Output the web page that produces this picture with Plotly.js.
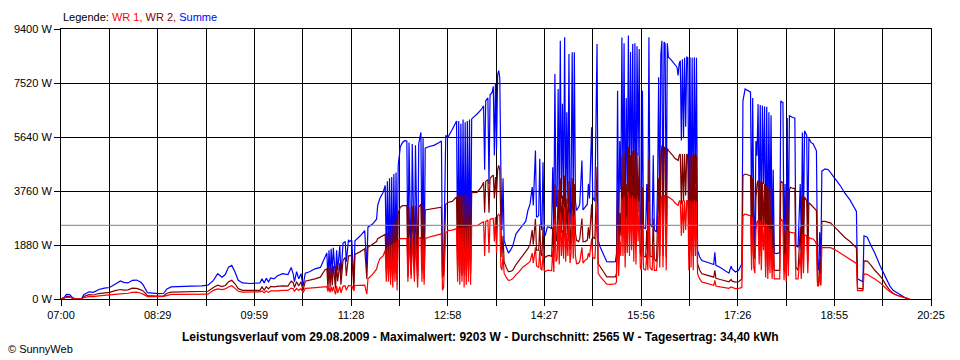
<!DOCTYPE html>
<html>
<head>
<meta charset="utf-8">
<script src="https://cdn.plot.ly/plotly-3.0.1.min.js"></script>
<style>html,body{margin:0;padding:0;background:#fff;}#chart{width:960px;height:360px;}</style>
</head>
<body>
<div id="chart"></div>
<script>
// ---- data ----
const seriesNames = ["WR 1", "WR 2", "Summe"];
const seriesColors = ["#ff0000", "#800000", "#0000ff"];
const xTickLabels = ["07:00","08:29","09:59","11:28","12:58","14:27","15:56","17:26","18:55","20:25"];
const yTickValues = [0, 1880, 3760, 5640, 7520, 9400];
const averageW = 2565;
const titleText = "Leistungsverlauf vom 29.08.2009 - Maximalwert: 9203 W - Durchschnitt: 2565 W - Tagesertrag: 34,40 kWh";

const time = [
"07:00","07:03","07:05","07:08","07:11","07:14","07:19","07:21","07:26","07:30",
"07:35","07:40","07:45","07:50","07:55","07:58","08:02","08:06","08:10","08:14",
"08:16","08:20","08:25","08:30","08:35","08:38","08:42","08:50","09:00","09:10",
"09:16","09:21","09:25","09:29","09:32","09:35","09:38","09:41","09:44","09:48",
"09:55","10:04","10:06","10:08","10:10","10:12","10:14","10:17","10:20","10:25",
"10:30","10:33","10:35","10:36","10:38","10:40","10:42","10:44","10:46","10:50",
"10:55","11:00","11:04","11:06","11:07","11:08","11:09","11:10","11:11","11:12",
"11:14","11:15","11:16","11:18","11:19","11:21","11:23","11:24","11:26","11:27",
"11:29","11:31","11:32","11:37","11:41","11:43","11:44","11:48","11:52","11:53",
"11:55","11:58","12:00","12:01","12:02","12:03","12:04","12:05","12:06","12:07",
"12:08","12:09","12:10","12:11","12:12","12:14","12:16","12:18","12:20","12:21",
"12:22","12:24","12:25","12:27","12:28","12:30","12:31","12:33","12:34","12:35",
"12:36","12:37","12:40","12:45","12:50","12:52","12:53","12:54","12:56","12:58",
"13:02","13:05","13:06","13:07","13:08","13:09","13:10","13:11","13:12","13:13",
"13:14","13:15","13:16","13:17","13:18","13:19","13:20","13:25","13:29","13:31",
"13:32","13:33","13:35","13:36","13:37","13:39","13:40","13:41","13:42","13:43",
"13:44","13:45","13:46","13:47","13:48","13:49","13:50","13:52","13:54","13:56",
"13:58","14:01","14:04","14:07","14:10","14:12","14:14","14:16","14:17","14:19",
"14:20","14:22","14:23","14:24","14:25","14:26","14:27","14:28","14:30","14:32",
"14:34","14:35","14:36","14:37","14:38","14:39","14:40","14:41","14:42","14:43",
"14:44","14:45","14:46","14:47","14:48","14:49","14:50","14:51","14:52","14:53",
"14:54","14:55","14:56","14:57","14:59","15:00","15:02","15:03","15:05","15:07",
"15:08","15:09","15:11","15:12","15:14","15:15","15:16","15:17","15:19","15:22",
"15:25","15:29","15:33","15:34","15:35","15:36","15:37","15:38","15:39","15:40",
"15:41","15:42","15:43","15:44","15:45","15:46","15:47","15:48","15:49","15:50",
"15:51","15:52","15:53","15:54","15:55","15:56","15:57","15:58","15:59","16:01",
"16:02","16:03","16:04","16:05","16:07","16:08","16:09","16:11","16:12","16:13",
"16:14","16:15","16:16","16:17","16:18","16:19","16:20","16:21","16:22","16:24",
"16:26","16:28","16:30","16:31","16:32","16:33","16:34","16:35","16:36","16:37",
"16:38","16:39","16:40","16:41","16:42","16:43","16:44","16:45","16:46","16:47",
"16:48","16:49","16:51","16:53","16:56","17:00","17:04","17:05","17:06","17:10",
"17:14","17:18","17:20","17:21","17:24","17:27","17:30","17:31","17:33","17:36",
"17:38","17:39","17:40","17:41","17:42","17:43","17:44","17:45","17:46","17:47",
"17:48","17:49","17:50","17:51","17:52","17:53","17:54","17:55","17:56","17:57",
"17:58","17:59","18:00","18:02","18:04","18:05","18:06","18:07","18:08","18:09",
"18:10","18:11","18:12","18:13","18:14","18:15","18:17","18:19","18:20","18:22",
"18:24","18:25","18:26","18:27","18:28","18:30","18:31","18:32","18:34","18:36",
"18:38","18:39","18:40","18:41","18:42","18:43","18:44","18:47","18:50","18:52",
"18:56","19:01","19:05","19:10","19:14","19:16","19:17","19:22","19:23","19:26",
"19:29","19:33","19:38","19:40","19:44","19:47","19:50","19:54","19:57","20:00",
"20:03","20:05"
];

const summe = [
0,60,160,150,40,0,0,150,250,230,
330,380,400,520,630,580,560,650,660,580,
490,220,200,190,200,350,420,440,450,460,
480,650,880,760,850,1110,1170,940,650,560,
540,560,700,560,720,600,730,700,800,880,
850,1100,850,600,950,700,880,450,900,950,
1050,1100,1400,1600,700,1700,800,1750,900,1780,
700,1700,1000,1850,800,1950,2000,1300,2060,2000,
2050,580,2030,2200,2380,1100,2500,2600,2780,3250,
3500,3710,3950,1500,4100,1200,4200,900,4250,1000,
4350,1300,4400,700,4640,5300,5450,5510,5500,900,
5450,1000,5400,1200,5350,800,5400,5800,1400,5600,
900,5250,5300,5350,5450,5500,900,1000,5690,5630,
5900,6150,6200,1500,6200,1300,6100,1500,6250,1200,
6150,1100,6200,1600,6250,1300,6270,6440,6600,6730,
4500,6900,7000,4000,7100,7200,7400,5000,7500,5200,
7800,7950,7700,4470,2390,4200,2040,1800,1600,1700,
1850,2270,2400,2560,2700,3080,3300,3900,3260,5170,
2850,2900,4880,2600,2390,4760,2300,2210,2500,2500,
2450,4590,2390,7830,3300,3200,7310,3100,8990,3500,
6800,3300,9110,3080,6500,3300,8530,2600,4000,8590,
3200,8590,3400,3080,3200,3300,4820,3100,3200,3300,
4010,3500,5980,3550,3400,6000,8880,2040,1800,1550,
1300,1290,1300,1580,7250,2000,5500,3800,9100,3500,
8900,2400,7000,3780,9170,3600,8600,4000,8880,3000,
8900,2850,8800,5000,8700,2600,2400,7250,2500,2450,
4000,2400,9110,2620,2500,5000,2400,2330,3900,7720,
2600,8500,8990,2400,8950,8880,2500,8900,8420,8350,
8250,8150,8070,7780,8200,8300,5520,8350,5600,8400,
6000,8420,8400,2620,8420,3000,8400,2700,8420,4000,
8400,1690,1460,1340,1300,1250,1200,1630,1170,1100,
1000,900,1140,1050,940,1000,1230,6900,7310,7250,
7200,2620,7000,3000,1860,5500,4990,6790,3000,6750,
2620,6730,4000,6700,2000,6690,1700,6500,2500,6400,
1580,4500,1600,1580,1620,1620,6900,6850,6850,1860,
4000,1500,6300,2000,6380,6350,6320,6300,1860,1800,
4000,1900,5800,2500,5860,5700,2200,5600,5450,5400,
5250,5160,1280,1000,2320,1000,4450,4530,4500,4410,
4200,3950,3700,3450,3200,3050,700,600,2200,2150,
1900,1600,1150,1000,650,450,300,200,130,70,
20,0
];

const wr2 = [
0,30,90,80,20,0,0,90,150,140,
190,220,230,290,330,310,320,380,370,320,
280,120,100,100,110,200,240,250,250,260,
270,400,480,430,470,600,650,530,360,300,
290,300,420,310,430,350,440,420,440,460,
450,620,560,400,600,450,600,300,620,650,
700,760,1000,1050,380,1080,420,1100,470,1150,
360,1200,620,1250,500,1350,1450,800,1500,1500,
1520,330,1550,1650,1750,700,1800,1900,2000,2100,
2150,2200,2250,1000,2300,900,2400,750,2600,800,
2700,900,2800,650,3000,3200,3250,3250,3250,750,
3200,850,3250,1000,3250,700,3200,3300,1000,3250,
700,3100,3120,3150,3190,3200,750,850,3300,3360,
3400,3500,3550,1000,3600,900,3600,800,3620,900,
3650,800,3650,1000,3680,900,3700,3710,3900,4060,
3000,4100,4150,3000,4200,4290,4300,3500,4250,3600,
4500,4650,4500,2600,1460,2200,1300,1100,950,960,
1000,1200,1350,1500,1650,1750,1900,2400,1900,2790,
1700,1700,2600,1550,1500,2500,1460,1450,1500,1520,
1480,2500,1460,4000,2000,2100,3800,2000,4200,2300,
3600,2100,4300,2000,3500,2200,4100,1700,2500,4200,
2200,4000,2300,2040,2000,2100,2800,2000,2000,2050,
2500,2100,3300,2160,2100,3500,4600,1230,1100,950,
770,760,770,900,3800,1200,3000,2200,5000,2200,
5100,1600,4000,2400,5300,2300,5000,2500,5150,1900,
5200,1800,5100,3000,5000,1600,1460,3900,1500,1450,
2400,1400,4900,1500,1460,2800,1400,1300,2400,4200,
1500,5000,5340,1500,5300,5250,1460,5250,5170,5100,
5000,4900,4850,4820,5000,5050,3300,5050,3400,5050,
3600,5050,5000,1460,5000,1700,5000,1500,5050,2300,
5000,1230,1000,880,850,800,760,1000,720,680,
640,600,680,620,590,600,700,4300,4350,4300,
4290,1500,4200,1700,1390,3500,4000,4130,1800,4100,
1500,4060,2500,4000,1100,3950,1000,3900,1400,3800,
1000,2800,1000,1000,1000,1000,4100,4060,4060,1000,
2400,900,3750,1200,3800,3890,3850,3850,1100,1000,
2500,1100,3600,1500,3550,3420,1300,3350,3280,3200,
3120,3080,600,500,1400,500,2700,2700,2670,2650,
2500,2300,2150,2000,1850,1780,380,350,1330,1320,
1200,1000,800,700,450,300,200,120,90,60,
20,0
];

const wr1 = [
0,30,60,60,20,0,0,50,80,80,
110,120,130,160,180,180,200,230,240,200,
170,80,70,80,90,110,160,160,160,170,
170,300,350,330,350,420,460,370,270,240,
240,250,280,220,280,230,280,270,280,300,
300,380,360,260,370,300,370,220,370,380,
390,400,420,430,260,430,230,430,260,430,
160,450,210,430,210,450,460,300,470,460,
470,280,470,470,480,170,700,850,1040,1200,
1400,1500,1700,600,1800,600,1850,500,1900,400,
1950,600,2000,300,2050,2100,2100,2100,2100,600,
2100,700,2150,600,2150,400,2100,2150,600,2100,
500,2100,2150,2200,2260,2270,300,400,2300,2380,
2400,2440,2450,600,2480,500,2480,600,2500,400,
2500,500,2500,600,2520,500,2550,2550,2650,2700,
1500,2700,2750,1600,2780,2790,2800,2000,2850,1600,
2900,2950,2900,1100,1000,1500,900,750,650,660,
700,850,950,1100,1200,1250,1300,1600,1250,1800,
1150,1100,1700,1050,1000,1600,1000,950,1000,1000,
980,1700,940,2800,1300,1400,2600,1200,3000,1500,
2400,1400,3200,1300,2300,1500,3000,1250,1600,3000,
1400,2900,1500,1230,1250,1300,1800,1250,1350,1400,
1600,1460,2100,1450,1400,2200,3300,900,780,650,
520,510,530,600,2500,800,2000,1500,3500,1500,
3600,1100,2800,1600,3700,1500,3500,1700,3600,1300,
3500,1200,3500,2000,3400,1100,1000,2600,1050,1000,
1600,1000,3400,1100,1000,1900,1000,1000,1500,2900,
1100,3400,3600,1100,3600,3600,1000,3580,3550,3500,
3450,3350,3300,3260,3400,3430,2200,3430,2300,3430,
2400,3430,3430,1000,3430,1100,3400,1000,3430,1500,
3400,880,700,590,560,520,480,650,450,420,
400,370,420,400,360,370,400,2900,2960,2920,
2900,1000,2850,1100,900,2400,2700,2730,1200,2730,
1000,2700,1700,2650,750,2620,700,2500,900,2440,
700,1800,700,700,700,700,2790,2750,2700,650,
1600,600,2400,800,2350,2320,2320,2300,700,700,
1600,700,2260,900,2230,2200,900,2150,2100,2090,
2000,1900,460,460,900,460,1800,1800,1800,1790,
1720,1600,1500,1400,1300,1240,290,290,870,860,
780,700,560,480,350,250,180,120,80,50,
20,0
];

// ---- drawing ----
const toMin = t => { const p = t.split(':'); return (+p[0]) * 60 + (+p[1]); };
const t0 = toMin(xTickLabels[0]);
const tEnd = toMin(xTickLabels[xTickLabels.length - 1]);
const x = time.map(t => toMin(t) - t0);
const span = tEnd - t0;
const nGrid = (xTickLabels.length - 1) * 2;
const xTickVals = [], xTickText = [];
for (let k = 0; k <= nGrid; k++) {
  xTickVals.push(k * span / nGrid);
  xTickText.push(k % 2 === 0 ? xTickLabels[k / 2] : "");
}

const FONT = "Liberation Sans, Arial, sans-serif";
const values = [wr1, wr2, summe];
const drawOrder = [2, 1, 0];
const traces = drawOrder.map(i => ({
  x: x, y: values[i], type: "scatter", mode: "lines", name: seriesNames[i],
  line: { color: seriesColors[i], width: 1.2 }, hoverinfo: "skip"
}));

const legendText = "Legende: " + seriesNames.map((n, i) =>
  '<span style="color:' + seriesColors[i] + '">' + n + (i < seriesNames.length - 1 ? ',' : '') + '</span>'
).join(' ');

const layout = {
  width: 960, height: 360,
  margin: { l: 61, r: 29, t: 29, b: 61, pad: 0 },
  paper_bgcolor: "#ffffff", plot_bgcolor: "#ffffff",
  showlegend: false,
  font: { family: FONT, size: 11, color: "#000000" },
  xaxis: {
    range: [0, span], tickmode: "array", tickvals: xTickVals, ticktext: xTickText,
    showgrid: true, gridcolor: "#000000", gridwidth: 1, zeroline: false,
    showline: true, linecolor: "#000000", linewidth: 1, mirror: true,
    ticks: "outside", ticklen: 6, tickcolor: "#000000", tickwidth: 1,
    tickfont: { family: FONT, size: 11, color: "#000000" }, fixedrange: true
  },
  yaxis: {
    range: [0, yTickValues[yTickValues.length - 1]], tickmode: "array",
    tickvals: yTickValues, ticktext: yTickValues.map(v => v + " W"),
    showgrid: true, gridcolor: "#000000", gridwidth: 1, zeroline: false,
    showline: true, linecolor: "#000000", linewidth: 1, mirror: true,
    ticks: "outside", ticklen: 6, tickcolor: "#000000", tickwidth: 1,
    tickfont: { family: FONT, size: 11, color: "#000000" }, fixedrange: true
  },
  shapes: [{
    type: "line", xref: "paper", x0: 0, x1: 1, yref: "y", y0: averageW, y1: averageW,
    line: { color: "#808080", width: 1 }, layer: "above"
  }],
  annotations: [
    { text: legendText, xref: "paper", x: 0, xanchor: "left", yref: "paper", y: 1,
      yanchor: "bottom", yshift: 4, showarrow: false, font: { family: FONT, size: 11, color: "#000000" } },
    { text: "<b>" + titleText + "</b>", xref: "paper", x: (480 - 61) / 870, xanchor: "center",
      yref: "paper", y: 0, yanchor: "middle", yshift: -38, showarrow: false,
      font: { family: FONT, size: 12, color: "#000000" } },
    { text: "© SunnyWeb", xref: "paper", x: (6 - 61) / 870, xanchor: "left",
      yref: "paper", y: 0, yanchor: "middle", yshift: -50, showarrow: false,
      font: { family: FONT, size: 11, color: "#000000" } }
  ]
};

Plotly.newPlot("chart", traces, layout, { staticPlot: true, displayModeBar: false });
</script>
</body>
</html>
